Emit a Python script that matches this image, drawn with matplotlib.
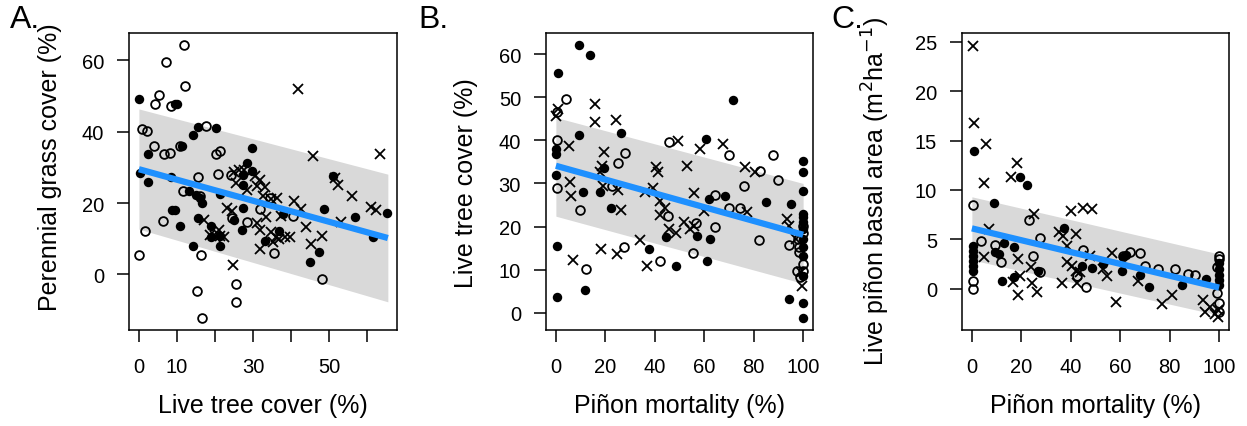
import matplotlib
matplotlib.use("Agg")
import matplotlib.pyplot as plt

plt.rcParams['font.family'] = ['Liberation Sans', 'DejaVu Sans']

# ---- panel A: grass cover vs live tree cover
a_filled_x = [0.0, 9.4, 9.9, 0.2, 2.4, 2.4, 14.2, 15.5, 20.2, 29.7, 28.4, 29.8, 8.5, 11.2,
              13.2, 15.1, 16.0, 16.5, 8.7, 9.6, 10.7, 15.4, 18.9, 19.0, 14.2, 21.2, 21.2,
              24.9, 27.4, 27.4, 27.4, 27.2, 33.1, 36.8, 37.9, 44.9, 47.4, 48.6, 50.9, 56.8,
              61.6, 65.1, 21.4]
a_filled_y = [49.2, 47.8, 47.9, 28.3, 33.7, 26.0, 39.2, 41.4, 41.0, 35.4, 31.2, 29.1, 27.2, 35.9,
              23.5, 22.2, 21.3, 20.1, 18.0, 18.0, 13.6, 15.8, 13.6, 10.6, 7.9, 8.0, 22.5,
              15.3, 27.9, 25.0, 18.6, 12.5, 9.3, 12.2, 16.9, 3.4, 6.3, 18.3, 27.5, 16.0,
              10.4, 17.1, 10.7]
a_open_x = [11.8, 7.2, 12.2, 5.4, 4.2, 8.5, 0.8, 2.1, 17.5, 4.0, 6.7, 8.3, 10.8, 20.3, 21.4,
            20.9, 15.4, 11.6, 16.1, 24.3, 24.5, 28.4, 6.3, 1.7, 0.0, 16.3, 15.3, 25.4, 25.6,
            16.7, 48.2, 35.4, 40.5, 31.8, 34.4]
a_open_y = [64.3, 59.6, 52.7, 50.4, 47.9, 47.2, 40.7, 40.1, 41.6, 36.0, 33.7, 34.0, 35.9, 33.7, 34.6,
            28.1, 27.2, 23.5, 22.1, 27.9, 15.8, 14.8, 15.0, 12.2, 5.4, 5.4, -4.8, -2.7, -7.7,
            -12.3, -1.3, 6.0, 16.5, 18.3, 21.4]
a_cross_x = [41.8, 45.8, 63.3, 51.5, 52.4, 56.1, 61.1, 62.2, 53.0, 40.7, 42.7, 44.0, 45.1, 48.1,
             24.7, 17.0, 18.8, 19.9, 21.2, 22.3, 21.0, 23.2, 24.5, 25.0, 26.2, 27.5, 25.4, 28.3,
             30.6, 30.9, 31.9, 33.1, 32.6, 34.8, 36.3, 33.5, 34.8, 36.1, 35.3, 30.9, 31.9, 38.3,
             39.7, 36.8, 37.3, 31.8]
a_cross_y = [52.0, 33.3, 33.8, 27.0, 25.0, 22.1, 18.9, 18.0, 14.6, 20.7, 18.3, 13.2, 8.5, 10.8,
             2.7, 15.3, 11.1, 10.7, 10.7, 10.4, 12.5, 18.6, 17.9, 28.8, 29.3, 29.3, 25.6, 23.7,
             27.5, 24.9, 26.5, 24.4, 22.1, 21.1, 21.5, 16.0, 11.8, 10.4, 9.0, 14.4, 7.1, 10.5,
             10.5, 9.9, 16.4, 12.5]
a_fit_x = [0, 65.4]
a_fit_y = [29.5, 10.2]
a_upper = [46.4, 28.1]
a_lower = [12.7, -7.7]

# ---- panel B: live tree cover vs pinon mortality
b_filled_x = [9.3, 13.6, 0.7, 71.8, 9.4, 26.3, 60.7, 0.0, 0.0, 0.0, 11.1, 19.6, 17.7, 22.4,
              62.1, 68.6, 84.8, 94.9, 62.4, 57.0, 44.7, 37.6, 61.1, 48.5, 0.3, 0.3, 11.9,
              94.4, 100, 100, 100, 100, 100, 100, 100, 100, 100, 100, 100, 100, 100]
b_filled_y = [62.1, 59.9, 55.6, 49.4, 41.2, 41.6, 40.4, 38.0, 36.8, 31.9, 27.9, 33.5, 28.1, 24.4,
              26.5, 27.0, 25.6, 25.3, 17.2, 17.9, 17.5, 14.8, 12.1, 10.8, 15.5, 3.7, 5.2,
              3.2, 35.1, 32.6, 28.3, 22.9, 22.1, 21.0, 19.4, 17.1, 15.2, 13.2, 8.6, 2.2, -1.3]
b_open_x = [4.2, 0.4, 0.4, 0.3, 9.7, 12.1, 27.4, 25.1, 28.1, 22.6, 45.9, 45.4, 42.3, 55.4, 56.5,
            64.2, 64.2, 70.1, 70.1, 74.5, 76.1, 82.6, 82.1, 87.7, 89.9, 94.4, 97.8, 98.5,
            98.5, 100, 100, 100, 100, 97.7, 98.9]
b_open_y = [49.7, 46.5, 40.1, 28.9, 23.9, 10.1, 15.2, 34.7, 37.0, 29.5, 39.7, 22.4, 11.9, 13.8, 20.8,
            27.3, 20.0, 36.6, 24.3, 24.2, 29.3, 32.8, 16.9, 36.7, 30.9, 15.8, 17.1, 15.2,
            14.0, 20.2, 18.6, 11.3, 9.7, 9.7, 8.2]
b_cross_x = [0.7, 0.0, 5.4, 5.8, 6.0, 7.1, 16.0, 16.0, 24.3, 19.6, 18.8, 17.7, 19.2, 18.1, 25.1,
             26.2, 24.8, 34.2, 36.2, 39.2, 40.5, 41.2, 42.0, 42.3, 44.3, 45.6, 36.9, 48.6, 51.7,
             54.4, 53.0, 55.7, 58.1, 60.0, 49.4, 67.5, 77.2, 76.5, 80.5, 93.3, 94.4, 97.3,
             99.7, 99.1, 55.7]
b_cross_y = [47.3, 45.6, 38.7, 30.4, 27.1, 12.3, 48.4, 44.3, 44.8, 37.4, 34.1, 32.6, 29.5, 14.8, 28.5,
             23.9, 13.6, 16.9, 28.1, 29.0, 33.7, 32.7, 26.0, 22.7, 24.4, 19.4, 10.9, 18.6, 21.1,
             19.4, 34.0, 27.8, 38.1, 23.7, 39.9, 39.1, 23.3, 33.9, 32.7, 21.7, 20.2, 17.1,
             6.1, 9.4, 20.2]
b_fit_x = [0, 100]
b_fit_y = [34.1, 18.1]
b_upper = [45.3, 30.0]
b_lower = [22.4, 6.8]

# ---- panel C: live pinon basal area vs pinon mortality
c_filled_x = [0.4, 0.4, 0.4, 0.4, 0.4, 0.4, 0.7, 19.5, 22.2, 9.0, 13.1, 9.4, 10.8, 17.2, 12.1,
              17.2, 26.9, 37.3, 44.4, 48.5, 52.9, 60.6, 61.2, 62.2, 68.2, 71.7, 84.8, 94.6,
              100, 100, 100, 100, 100]
c_filled_y = [4.3, 3.8, 3.3, 2.8, 2.3, 1.8, 13.9, 11.3, 10.5, 8.7, 4.6, 3.7, 3.5, 4.2, 0.8,
              1.2, 1.8, 6.1, 2.3, 2.1, 2.5, 1.8, 3.2, 3.4, 1.4, 0.2, 0.4, 1.0,
              2.6, 2.0, 1.4, 0.9, 0.4]
c_open_x = [0.4, 0.4, 0.4, 3.6, 9.4, 11.8, 23.1, 27.6, 24.6, 27.6, 45.1, 42.4, 46.0, 61.0, 63.9,
            68.2, 70.0, 75.4, 82.1, 87.5, 90.2, 99.0, 99.3, 100, 100, 100, 100]
c_open_y = [8.5, 0.8, 0.0, 4.8, 4.4, 2.7, 6.9, 5.1, 3.3, 1.7, 3.9, 1.3, 0.2, 3.3, 3.7,
            3.6, 2.3, 2.0, 2.0, 1.5, 1.4, 2.2, -0.4, 3.3, 3.0, -1.5, -2.4]
c_cross_x = [0.4, 0.7, 5.7, 5.1, 5.1, 6.9, 18.2, 15.9, 25.2, 18.8, 19.5, 16.6, 18.8, 24.0, 24.5,
             26.2, 40.2, 45.1, 48.7, 42.1, 35.4, 37.0, 38.6, 38.6, 40.4, 42.1, 43.7, 36.5, 42.4,
             53.2, 54.5, 56.5, 58.3, 67.3, 76.7, 80.8, 93.5, 94.2, 96.2, 98.2, 99.6, 99.6, 47.8]
c_cross_y = [24.6, 16.8, 14.6, 10.7, 3.2, 6.0, 12.7, 11.3, 7.6, 3.0, 1.3, 0.7, -0.7, 2.2, 0.6,
             -0.3, 7.9, 8.2, 8.1, 5.5, 5.7, 5.3, 4.3, 2.7, 2.3, 1.8, 1.7, 0.6, 0.6,
             2.0, 1.3, 3.6, -1.4, 0.8, -1.6, -0.7, -1.2, -2.4, -1.9, -2.6, -2.9, -2.2, 3.3]
c_fit_x = [0, 100]
c_fit_y = [6.1, 0.1]
c_upper = [9.3, 3.5]
c_lower = [2.9, -2.7]

panels = [
    dict(fx=a_filled_x, fy=a_filled_y, ox=a_open_x, oy=a_open_y, cx=a_cross_x, cy=a_cross_y,
         fitx=a_fit_x, fity=a_fit_y, up=a_upper, lo=a_lower,
         xlim=(-2.6, 67.8), ylim=(-15.6, 67.7),
         xticks=[0, 10, 20, 30, 40, 50, 60], xlabels=['0', '10', '', '30', '', '50', ''],
         yticks=[0, 20, 40, 60],
         xlab='Live tree cover (%)', ylab='Perennial grass cover (%)',
         letter='A.', pos=[129, 397], ylab_xy=(50, 167), letter_x=10),
    dict(fx=b_filled_x, fy=b_filled_y, ox=b_open_x, oy=b_open_y, cx=b_cross_x, cy=b_cross_y,
         fitx=b_fit_x, fity=b_fit_y, up=b_upper, lo=b_lower,
         xlim=(-4, 104), ylim=(-4.0, 64.9),
         xticks=[0, 20, 40, 60, 80, 100], xlabels=['0', '20', '40', '60', '80', '100'],
         yticks=[0, 10, 20, 30, 40, 50, 60],
         xlab='Piñon mortality (%)', ylab='Live tree cover (%)',
         letter='B.', pos=[546, 813], ylab_xy=(466, 183), letter_x=418),
    dict(fx=c_filled_x, fy=c_filled_y, ox=c_open_x, oy=c_open_y, cx=c_cross_x, cy=c_cross_y,
         fitx=c_fit_x, fity=c_fit_y, up=c_upper, lo=c_lower,
         xlim=(-4, 104), ylim=(-4.2, 25.9),
         xticks=[0, 20, 40, 60, 80, 100], xlabels=['0', '20', '40', '60', '80', '100'],
         yticks=[0, 5, 10, 15, 20, 25],
         xlab='Piñon mortality (%)', ylab='Live piñon basal area (m$^2$ha$^{-1}$)',
         letter='C.', pos=[962, 1229], ylab_xy=(876, 191), letter_x=831),
]

W, H = 1247, 427
fig = plt.figure(figsize=(W / 100, H / 100), dpi=100)

for p in panels:
    left = p['pos'][0] / W
    width = (p['pos'][1] - p['pos'][0]) / W
    ax = fig.add_axes([left, 1 - 331 / H, width, (331 - 34) / H])
    ax.fill_between(p['fitx'], p['lo'], p['up'], color='#d9d9d9', lw=0, zorder=1)
    ax.plot(p['fx'], p['fy'], 'o', color='black', ms=6.8, mew=0, zorder=3)
    ax.plot(p['ox'], p['oy'], 'o', mfc='none', mec='black', ms=6.3, mew=1.3, zorder=3)
    ax.plot(p['cx'], p['cy'], 'x', color='black', ms=6.8, mew=1.3, zorder=3)
    ax.plot(p['fitx'], p['fity'], color='#1e90ff', lw=4.5, solid_capstyle='butt', zorder=4)
    ax.set_xlim(*p['xlim'])
    ax.set_ylim(*p['ylim'])
    ax.set_xticks(p['xticks'])
    ax.set_xticklabels(p['xlabels'])
    ax.set_yticks(p['yticks'])
    ax.tick_params(direction='out', length=8.5, width=1.1, labelsize=14.5, color='black')
    ax.tick_params(axis='x', pad=11)
    ax.tick_params(axis='y', pad=9.5)
    for s in ax.spines.values():
        s.set_linewidth(1.1)
    ax.set_xlabel(p['xlab'], fontsize=18, labelpad=12)
    fig.text(p['ylab_xy'][0] / W, 1 - p['ylab_xy'][1] / H, p['ylab'], rotation=90,
             fontsize=18, ha='center', va='center')
    fig.text(p['letter_x'] / W, 1 - 5 / H, p['letter'], fontsize=23, ha='left', va='top')

fig.savefig('out.png', dpi=100)
